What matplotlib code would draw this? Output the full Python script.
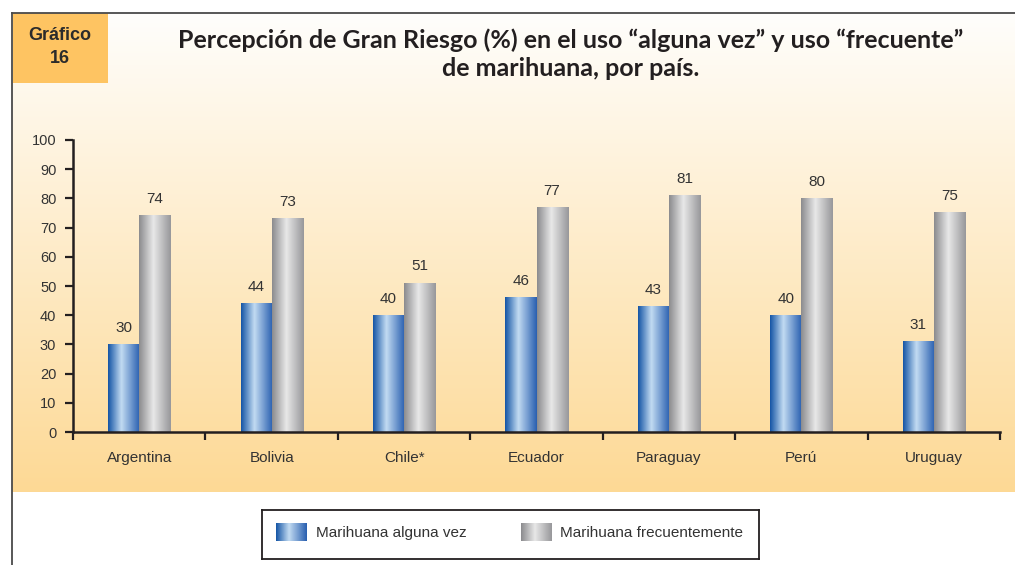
import numpy as np
import matplotlib
matplotlib.use("Agg")
import matplotlib.pyplot as plt
from matplotlib.colors import LinearSegmentedColormap
from matplotlib.patches import Rectangle

# data
paises = ["Argentina", "Bolivia", "Chile*", "Ecuador", "Paraguay", "Perú", "Uruguay"]
alguna_vez = [30, 44, 40, 46, 43, 40, 31]
frecuente = [74, 73, 51, 77, 81, 80, 75]
serie_nombres = ["Marihuana alguna vez", "Marihuana frecuentemente"]
yticks = list(range(0, 101, 10))

W, H = 1015, 565
plt.rcParams['font.family'] = ['Liberation Sans', 'DejaVu Sans']
fig = plt.figure(figsize=(W / 100, H / 100), dpi=100)
fig.patch.set_facecolor("white")

# gradients for bars (horizontal "cylinder" look)
azul = LinearSegmentedColormap.from_list("azul", [(0, "#1656a6"), (0.42, "#c2dbf2"), (1, "#2a60b0")])
gris = LinearSegmentedColormap.from_list("gris", [(0, "#8c8c8f"), (0.45, "#e8e8e8"), (1, "#98989b")])
fondo = LinearSegmentedColormap.from_list("fondo", [(0, "#fffefc"), (1, "#fdd995")])


def px(x0, y0, w, h):
    # pixel box (top-left origin) -> figure fraction
    return [x0 / W, 1 - (y0 + h) / H, w / W, h / H]


# background panel with vertical gradient
bg = fig.add_axes(px(12, 13, W - 12, 479), zorder=0)
bg.imshow(np.linspace(0, 1, 256).reshape(-1, 1), cmap=fondo, aspect="auto", extent=[0, 1, 0, 1])
bg.set_axis_off()

# frame lines
fig.add_artist(plt.Line2D([12 / W, 1], [1 - 13 / H] * 2, color="#4a4a4a", lw=1.3))
fig.add_artist(plt.Line2D([12 / W] * 2, [0, 1 - 13 / H], color="#4a4a4a", lw=1.3))

# "Gráfico 16" box
fig.add_artist(Rectangle((13 / W, 1 - 83 / H), 95 / W, 70 / H, transform=fig.transFigure,
                         facecolor="#fec462", edgecolor="none", zorder=1))
fig.text(60 / W, 1 - 47 / H, "Gráfico\n16", ha="center", va="center", fontsize=13,
         fontweight="bold", color="#2b2b2b", linespacing=1.45, zorder=2)

titulo = ["Percepción de Gran Riesgo (%) en el uso “alguna vez” y uso “frecuente”",
          "de marihuana, por país."]
for ty, linea in zip([40, 69], titulo):
    fig.text(571 / W, 1 - ty / H, linea, ha="center", va="center", fontsize=18, fontweight="bold",
             family=["Lato", "DejaVu Sans"], color="#231f20", zorder=2)

# main axes
ax = fig.add_axes(px(73, 140, 927, 292), zorder=2)
ax.patch.set_alpha(0)
n = len(paises)
x = np.arange(n)
bw = 0.235
grad = np.linspace(0, 1, 64).reshape(1, -1)
for i in range(n):
    for off, val, cmap in [(-bw / 2, alguna_vez[i], azul), (bw / 2, frecuente[i], gris)]:
        x0 = x[i] + off - bw / 2
        ax.imshow(grad, cmap=cmap, aspect="auto", extent=[x0, x0 + bw, 0, val], zorder=2)
        ax.text(x[i] + off, val + 3.3, str(val), ha="center", va="bottom", fontsize=11, color="#333333")

ax.set_xlim(-0.5, n - 0.5)
ax.set_ylim(0, 100)
ax.set_aspect("auto")
ax.set_yticks(yticks)
ax.set_xticks(x)
ax.set_xticklabels(paises)
ax.set_xticks(np.arange(-0.5, n, 1), minor=True)
ax.tick_params(axis="x", which="major", length=0, pad=14, labelsize=11, labelcolor="#333333")
ax.tick_params(axis="x", which="minor", length=6, width=1.6, direction="out", color="#231f20")
ax.tick_params(axis="y", length=6, width=1.6, pad=6, labelsize=10.5, labelcolor="#333333", color="#231f20")
for s in ["top", "right"]:
    ax.spines[s].set_visible(False)
for s in ["left", "bottom"]:
    ax.spines[s].set_linewidth(1.8)
    ax.spines[s].set_color("#231f20")

# legend box drawn by hand to keep gradient swatches
lg = fig.add_axes(px(262, 510, 497, 49), zorder=3)
lg.set_xticks([])
lg.set_yticks([])
for s in lg.spines.values():
    s.set_linewidth(1.3)
    s.set_color("#231f20")
for sx, tx, cmap, name in [(14, 54, azul, serie_nombres[0]), (259, 298, gris, serie_nombres[1])]:
    lg.imshow(grad, cmap=cmap, aspect="auto", extent=[sx, sx + 31, 31, 13])
    lg.text(tx, 23, name, ha="left", va="center", fontsize=11, color="#333333")
lg.set_xlim(0, 497)
lg.set_ylim(49, 0)

fig.savefig("out.png", dpi=100)
